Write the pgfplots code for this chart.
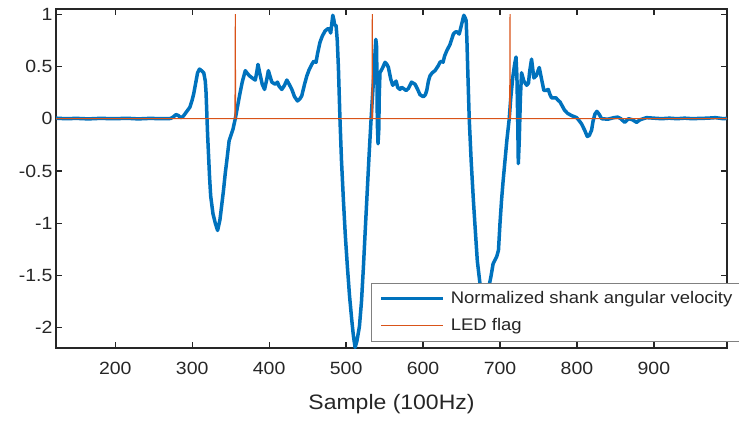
\documentclass[border=0pt]{standalone}
\usepackage{pgfplots}
\pgfplotsset{compat=1.18}
\usepackage{fontspec}
\setmainfont{Liberation Sans}[FakeStretch=1.1]
\definecolor{mblue}{rgb}{0,0.447,0.741}
\definecolor{mred}{rgb}{0.85,0.325,0.098}
\definecolor{axc}{rgb}{0.15,0.15,0.15}
\pgfplotsset{mylegline/.style={legend image code/.code={\draw[#1] (0pt,0pt) -- (62pt,0pt);}}}
\begin{document}
\begin{tikzpicture}
\useasboundingbox (0,0) rectangle (739pt,421pt);
\begin{axis}[
  at={(56pt,73pt)}, anchor=south west,
  scale only axis, width=671pt, height=339pt,
  xmin=123, xmax=995, ymin=-2.195, ymax=1.05,
  xtick={200,300,400,500,600,700,800,900},
  ytick={-2,-1.5,-1,-0.5,0,0.5,1},
  /pgf/number format/assume math mode=true,
  axis line style={axc, line width=1.3pt},
  every tick/.style={axc, line width=1.3pt},
  major tick length=6pt,
  tick align=inside,
  tick label style={font=\fontsize{17.7}{20}\selectfont, color=axc},
  xticklabel style={yshift=-11pt},
  xlabel={Sample (100Hz)},
  xlabel style={font=\fontsize{20.9}{24}\selectfont, color=axc, at={(axis description cs:0.5,0)}, anchor=base, yshift=-61pt},
  legend cell align=left,
  mylegline,
  legend style={at={(0.4694,0.1925)}, anchor=north west, draw=black!50, line width=0.8pt, fill=white,
    font=\fontsize{16.8}{19}\selectfont, text=axc, inner xsep=8pt, inner ysep=6.5pt, row sep=9.5pt,
    nodes={inner sep=2pt}, column sep=4pt},
]
\addplot[mblue, line width=3.5pt, line join=round] coordinates {
(123,0.005) (135,0) (150,0.003) (165,-0.002) (180,0.003) (200,0) (215,0.004) (230,-0.002) (245,0.003) (260,0) (272,0.002)
(276,0.02) (279,0.04) (282,0.03) (285,0.01) (288,0.02) (292,0.06) (297,0.11) (300,0.18) (302,0.24) (305,0.36) (307,0.44)
(309.5,0.475) (312,0.46) (315,0.44) (317,0.36) (318,0.25) (319,0.05) (320,-0.15) (321,-0.31) (322.5,-0.55) (324,-0.74)
(327,-0.91) (330,-1.0) (333,-1.07) (336,-0.97) (338,-0.85) (340.6,-0.69) (343,-0.52) (345,-0.40) (348,-0.21) (353,-0.1)
(356,0) (359,0.12) (362,0.24) (365,0.35) (369,0.46) (372,0.43) (374.5,0.41) (378,0.39) (382,0.37) (384,0.45) (385.5,0.52)
(388,0.43) (391,0.33) (394,0.28) (397,0.38) (399,0.46) (401,0.41) (403.5,0.35) (407.8,0.33) (410.8,0.35) (413,0.31)
(416.5,0.28) (420,0.32) (423,0.37) (426,0.33) (429.5,0.28) (433,0.21) (436.8,0.17) (440,0.19) (442.4,0.22) (446,0.33)
(449,0.41) (452,0.47) (455.4,0.52) (458,0.55) (461,0.54) (462.8,0.62) (466,0.73) (469,0.79) (472.7,0.84) (476,0.86)
(478,0.86) (480,0.82) (482.7,0.99) (484,0.95) (485,0.90) (487,0.89) (488.5,0.75) (490,0.49) (492,0) (494,-0.4)
(496.5,-0.78) (499,-1.12) (501.7,-1.42) (504.5,-1.7) (507.4,-1.93) (509.5,-2.08) (511.7,-2.19) (514,-2.13) (517.3,-1.99)
(520,-1.75) (522.5,-1.42) (525,-1.05) (527.7,-0.66) (530,-0.33) (532.5,0) (535.5,0.36) (538.6,0.76) (539.5,0.7)
(540,0.45) (540.6,-0.05) (541.5,-0.24) (542.5,-0.1) (543,0.2) (544,0.44) (547,0.48) (550.6,0.54) (553,0.52) (555,0.49)
(558,0.38) (560.6,0.32) (563,0.34) (565,0.36) (567,0.3) (570,0.28) (572,0.3) (574.4,0.29) (578,0.27) (581,0.29)
(585,0.35) (589.6,0.33) (593,0.28) (596,0.23) (600.4,0.21) (603,0.23) (604.8,0.27) (607,0.36) (609,0.41) (612,0.44)
(615.6,0.46) (620,0.51) (622,0.54) (624.3,0.55) (626,0.54) (628,0.6) (630.8,0.65) (635,0.71) (639.4,0.81) (642,0.83)
(644.5,0.83) (647,0.81) (650,0.90) (653,0.99) (655,0.96) (656,0.94) (657,0.75) (658,0.49) (660,0) (662.5,-0.4)
(665.4,-0.78) (668,-1.08) (670.5,-1.36) (674,-1.58) (677,-1.85) (679.5,-1.95) (682,-1.85) (685,-1.63) (688.5,-1.50)
(691,-1.39) (695.7,-1.32) (698,-1.26) (700,-1.0) (702,-0.78) (704,-0.6) (706.5,-0.40) (709,-0.2) (712,0) (714,0.2)
(716.5,0.39) (719,0.52) (720.8,0.59) (722,0.4) (723,0.0) (723.8,-0.43) (725,-0.21) (726.5,0.2) (728,0.44) (731,0.36)
(734.7,0.32) (737,0.34) (738.5,0.45) (741,0.57) (744,0.39) (747,0.41) (749,0.45) (751,0.49) (754,0.38) (757,0.27)
(760,0.27) (762.7,0.28) (765,0.23) (767,0.20) (772.7,0.20) (775,0.18) (778,0.16) (781,0.12) (784,0.08) (788,0.05)
(793,0.03) (799.6,0.01) (803,-0.02) (806,-0.05) (810,-0.11) (813.4,-0.17) (816,-0.16) (819,-0.11) (821,-0.02)
(823.4,0.045) (826,0.07) (829,0.04) (832,0.0) (840,-0.005) (848,0.01) (853,0.015) (857,0.0) (862,-0.035) (867,0.0)
(872,-0.01) (877.5,-0.035) (882,-0.01) (890.5,0.01) (900,0.005) (910,0.0) (920,0.005) (930,0.0) (940,0.005) (950,0.0)
(960,0.003) (970,0.005) (980,0.01) (990,0.0) (995,0.003)
};
\addlegendentry{Normalized shank angular velocity}
\addplot[mred, line width=1pt] coordinates {
(123,0) (355.5,0) (356,1) (356.5,0) (533.5,0) (534,1) (534.5,0) (712.5,0) (713,1) (713.5,0) (995,0)
};
\addlegendentry{LED flag}
\end{axis}
\end{tikzpicture}
\end{document}
